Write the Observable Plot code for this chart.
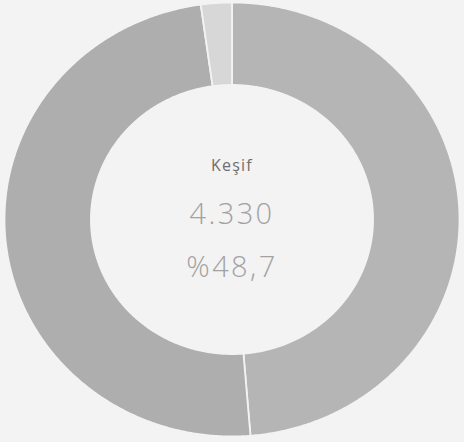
<!DOCTYPE html>
<html>
<head>
<meta charset="utf-8">
<script src="https://cdn.jsdelivr.net/npm/d3@7"></script>
<script src="https://cdn.jsdelivr.net/npm/@observablehq/plot@0.6"></script>
<style>
  html, body { margin: 0; padding: 0; background: #f3f3f3; }
  #chart { width: 464px; height: 442px; }
</style>
</head>
<body>
<div id="chart"></div>
<script>
// Data
const categories = ["Keşif", "Diğer", "Diğer (küçük)"];
const values = [4330, 4365, 195];
const centerLabel = "Keşif";
const centerValue = "4.330";
const centerShare = "%48,7";

// Style
const fills = ["#b5b5b5", "#aeaeae", "#d7d7d7"];
const innerRatio = 0.62;

const pie = d3.pie().sort(null).value(d => d.value);
const arcs = pie(categories.map((c, i) => ({category: c, value: values[i]})));

function wedge(a) {
  const pts = [];
  const step = Math.PI / 360;
  const n = Math.max(2, Math.ceil((a.endAngle - a.startAngle) / step));
  for (let k = 0; k <= n; k++) {
    const t = a.startAngle + (a.endAngle - a.startAngle) * k / n;
    pts.push({x: Math.sin(t), y: Math.cos(t)});
  }
  for (let k = n; k >= 0; k--) {
    const t = a.startAngle + (a.endAngle - a.startAngle) * k / n;
    pts.push({x: innerRatio * Math.sin(t), y: innerRatio * Math.cos(t)});
  }
  pts.push(pts[0]);
  return pts;
}

const chart = Plot.plot({
  width: 464,
  height: 442,
  margin: 0,
  style: {background: "#f3f3f3"},
  x: {domain: [-1, 1], range: [4, 459], axis: null},
  y: {domain: [-1, 1], range: [436, 2], axis: null},
  marks: [
    ...arcs.map((a, i) => Plot.line(wedge(a), {
      x: "x", y: "y", fill: fills[i], stroke: "#f3f3f3", strokeWidth: 1.8, curve: "linear"
    })),
    Plot.text([centerLabel], {x: () => 0, y: () => 0, text: d => d, dy: -54, fontSize: 16, fill: "#6e6e6e", fontFamily: "'Open Sans', sans-serif", className: "lbl"}),
    Plot.text([centerValue], {x: () => 0, y: () => 0, text: d => d, dy: -5, fontSize: 29, fill: "#a2a2a2", fontFamily: "'Open Sans', sans-serif", fontWeight: 300, className: "big"}),
    Plot.text([centerShare], {x: () => 0, y: () => 0, text: d => d, dy: 48, fontSize: 29, fill: "#a2a2a2", fontFamily: "'Open Sans', sans-serif", fontWeight: 300, className: "big"})
  ]
});
d3.select(chart).selectAll(".big text").attr("letter-spacing", "2.4px");
d3.select(chart).selectAll(".lbl text").attr("letter-spacing", "1.2px");
document.getElementById("chart").appendChild(chart);
</script>
</body>
</html>
